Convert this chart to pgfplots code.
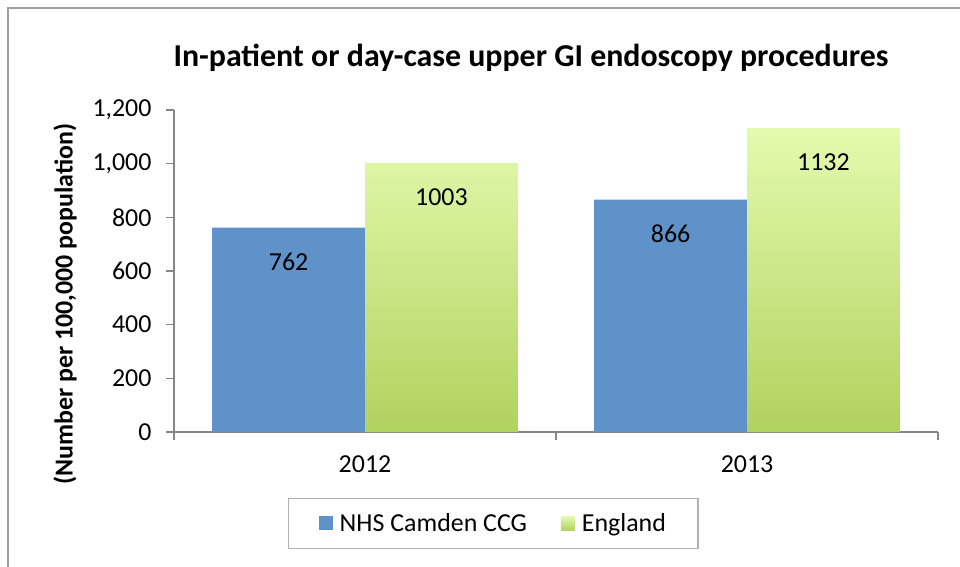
\documentclass[border=0pt]{standalone}
\usepackage{fontspec}
\setmainfont{Carlito}
\usepackage{pgfplots}
\pgfplotsset{compat=1.18}
\definecolor{camden}{RGB}{95,146,200}
\definecolor{engtop}{RGB}{228,250,174}
\definecolor{engbot}{RGB}{176,210,94}
\definecolor{axisgray}{RGB}{134,134,134}
\begin{document}
\begin{tikzpicture}[x=1bp,y=1bp]
\useasboundingbox (0,0) rectangle (960,-567);
% chart frame (cut at right and bottom in the reference)
\draw[gray!75, line width=2bp] (8,-567) -- (8,-8) -- (960,-8);
\node[font=\fontsize{32}{36}\selectfont\bfseries] at (531,-58)
  {In-patient or day-case upper GI endoscopy procedures};
\node[rotate=90, font=\fontsize{26}{30}\selectfont\bfseries] at (65,-304)
  {(Number per 100,000 population)};
\begin{axis}[
  at={(174bp,-432bp)}, anchor=south west,
  scale only axis, width=764bp, height=322bp,
  xmin=-0.5, xmax=1.5, ymin=0, ymax=1200,
  ybar=0pt, bar width=0.4,
  axis lines*=left,
  axis line style={axisgray, line width=1.3bp},
  tick align=outside,
  major tick length=8bp,
  tick style={axisgray, line width=1.3bp},
  xtick={-0.5,0.5,1.5}, xticklabels={},
  extra x ticks={0,1}, extra x tick labels={2012,2013},
  extra x tick style={major tick length=0pt},
  ytick={0,200,...,1200},
  scaled y ticks=false,
  /pgf/number format/assume math mode=true,
  yticklabel style={/pgf/number format/1000 sep={,}, xshift=-11bp},
  ticklabel style={font=\fontsize{26}{30}\selectfont, text=black},
  xticklabel style={yshift=-20bp},
  nodes near coords,
  every node near coord/.append style={font=\fontsize{26}{30}\selectfont, text=black,
    anchor=center, yshift=-34bp, /pgf/number format/1000 sep={}},
  legend style={at={(0.418,-0.284)}, anchor=center, legend columns=2,
    draw=gray!60, line width=1.3bp, inner xsep=30bp, inner ysep=13bp,
    font=\fontsize{26}{30}\selectfont,
    /tikz/every odd column/.append style={column sep=5bp},
    /tikz/every even column/.append style={column sep=32bp}},
  legend image code/.code={\path[#1] (0bp,-7bp) rectangle (14bp,7bp);},
]
\addplot[fill=camden, draw=none] coordinates {(0,762) (1,866)};
\addlegendentry{NHS Camden CCG}
\addplot[draw=none, top color=engtop, bottom color=engbot] coordinates {(0,1003) (1,1132)};
\addlegendentry{England}
\end{axis}
\end{tikzpicture}
\end{document}
